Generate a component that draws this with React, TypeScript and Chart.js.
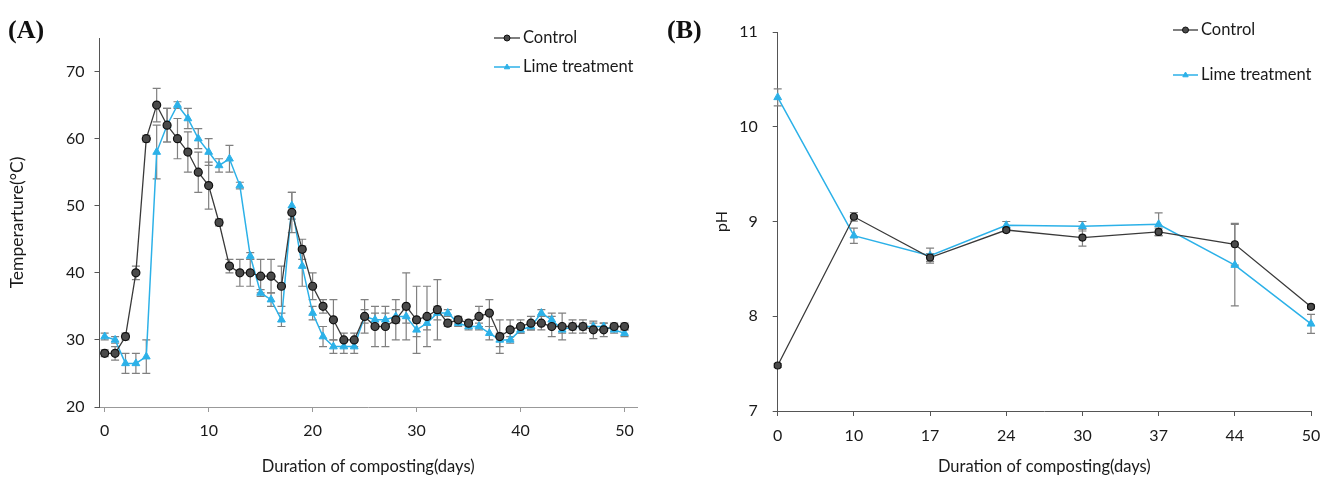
import React, { useEffect, useRef } from "react";
import { Chart, registerables } from "chart.js";

Chart.register(...registerables);

// ---------- Data: panel A (temperature) ----------
const daysA = [0, 1, 2, 3, 4, 5, 6, 7, 8, 9, 10, 11, 12, 13, 14, 15, 16, 17, 18, 19, 20, 21, 22, 23, 24, 25, 26, 27, 28, 29, 30, 31, 32, 33, 34, 35, 36, 37, 38, 39, 40, 41, 42, 43, 44, 45, 46, 47, 48, 49, 50];
const controlTemp = [28, 28, 30.5, 40, 60, 65, 62, 60, 58, 55, 53, 47.5, 41, 40, 40, 39.5, 39.5, 38, 49, 43.5, 38, 35, 33, 30, 30, 33.5, 32, 32, 33, 35, 33, 33.5, 34.5, 32.5, 33, 32.5, 33.5, 34, 30.5, 31.5, 32, 32.5, 32.5, 32, 32, 32, 32, 31.5, 31.5, 32, 32];
const controlTempErr = [0.5, 1, 0.5, 1, 0.5, 2.5, 2.5, 3, 3, 3, 3.5, 0.5, 1, 2, 2, 2.5, 2.5, 3, 3, 1.5, 2, 1, 3, 1, 1, 2.5, 3, 3, 3, 5, 5, 4.5, 4.5, 0.5, 0.5, 0.5, 1.5, 2, 2.5, 1.5, 1, 1, 1, 1.5, 2, 1, 1, 1.3, 1, 0.5, 0.5];
const limeTemp = [30.5, 30, 26.5, 26.5, 27.5, 58, 62, 65, 63, 60, 58, 56, 57, 53, 42.5, 37, 36, 33, 50, 41, 34, 30.5, 29, 29, 29, 33.5, 33, 33, 33.5, 33.5, 31.5, 32.5, 34, 34, 32.5, 32, 32, 31, 30, 30, 31.5, 32, 34, 33, 31.5, 32, 32, 32, 32, 31.5, 31];
const limeTempErr = [0.5, 0.5, 1.5, 1.5, 2.5, 4, 2.5, 0.5, 1.5, 1.5, 2, 1, 2, 0.5, 0.5, 0.5, 1, 1, 2, 3, 1, 1.5, 1, 1, 1, 1, 1, 1, 1, 1, 1, 1, 1, 0.5, 0.5, 0.5, 0.5, 1, 1, 0.5, 0.5, 0.5, 0.5, 1, 0.5, 0.5, 0.5, 0.5, 0.5, 0.5, 0.5];
const tempTicks = [20, 30, 40, 50, 60, 70];
const dayTicksA = [0, 10, 20, 30, 40, 50];

// ---------- Data: panel B (pH) ----------
const daysB = ["0", "10", "17", "24", "30", "37", "44", "50"];
const controlPH = [7.48, 9.05, 8.62, 8.91, 8.83, 8.89, 8.76, 8.1];
const controlPHErr = [0.02, 0.045, 0.04, 0.02, 0.09, 0.04, 0.22, 0.02];
const limePH = [10.31, 8.85, 8.64, 8.96, 8.95, 8.97, 8.54, 7.92];
const limePHErr = [0.09, 0.08, 0.08, 0.04, 0.05, 0.12, 0.43, 0.1];

const legendLabels = ["Control", "Lime treatment"];

// ---------- Styles ----------
const FONT_FAMILY = "Lato, 'Open Sans', sans-serif";
const TEXT_COLOR = "#1a1a1a";
const CONTROL_LINE = "#3a3a3a";
const CONTROL_FILL = "#4a4a4a";
const CONTROL_EDGE = "#111";
const LIME_COLOR = "#2cb1e8";
const ERR_COLOR = "#808080";

const errorBarPlugin = {
  id: "errorBars",
  beforeDatasetsDraw(chart: any) {
    const ctx = chart.ctx;
    chart.data.datasets.forEach((ds: any, i: number) => {
      const meta = chart.getDatasetMeta(i);
      if (!ds.errors || meta.hidden) return;
      const yScale = chart.scales[meta.yAxisID];
      ctx.save();
      ctx.strokeStyle = ds.errorColor || ERR_COLOR;
      ctx.lineWidth = 1.2;
      const cap = ds.errorCap || 4;
      meta.data.forEach((pt: any, j: number) => {
        const raw = ds.data[j];
        const v = typeof raw === "object" ? raw.y : raw;
        const e = ds.errors[j];
        if (v == null || !e) return;
        const x = pt.x;
        const yTop = yScale.getPixelForValue(v + e);
        const yBot = yScale.getPixelForValue(v - e);
        ctx.beginPath();
        ctx.moveTo(x, yTop);
        ctx.lineTo(x, yBot);
        ctx.moveTo(x - cap, yTop);
        ctx.lineTo(x + cap, yTop);
        ctx.moveTo(x - cap, yBot);
        ctx.lineTo(x + cap, yBot);
        ctx.stroke();
      });
      ctx.restore();
    });
  },
};

const lineLegendPlugin = {
  id: "lineLegend",
  afterDraw(chart: any, _args: any, opts: any) {
    if (!opts || !opts.display) return;
    const ctx = chart.ctx;
    chart.data.datasets.forEach((ds: any, i: number) => {
      const y = opts.y[i];
      const x0 = opts.x;
      const x1 = opts.x + opts.lineLen;
      ctx.save();
      ctx.strokeStyle = ds.borderColor;
      ctx.lineWidth = ds.borderWidth;
      ctx.beginPath();
      ctx.moveTo(x0, y);
      ctx.lineTo(x1, y);
      ctx.stroke();
      ctx.lineWidth = 1;
      ctx.fillStyle = ds.pointBackgroundColor;
      ctx.strokeStyle = ds.pointBorderColor;
      const r = opts.pointRadius;
      const cx = (x0 + x1) / 2;
      ctx.beginPath();
      if (ds.pointStyle === "triangle") {
        ctx.moveTo(cx, y - r);
        ctx.lineTo(cx + r * 0.9, y + r * 0.6);
        ctx.lineTo(cx - r * 0.9, y + r * 0.6);
        ctx.closePath();
      } else {
        ctx.arc(cx, y, r, 0, Math.PI * 2);
      }
      ctx.fill();
      ctx.stroke();
      ctx.fillStyle = TEXT_COLOR;
      ctx.font = `${opts.fontSize}px ${FONT_FAMILY}`;
      ctx.textBaseline = "middle";
      ctx.textAlign = "left";
      ctx.fillText(ds.label, x1 + opts.gap, y);
      ctx.restore();
    });
  },
};

const tickFont = { family: FONT_FAMILY, size: 16 };
const titleFont = { family: FONT_FAMILY, size: 16.5 };

function TempChart() {
  const ref = useRef<HTMLCanvasElement>(null);
  useEffect(() => {
    if (!ref.current) return;
    const chart = new Chart(ref.current, {
      type: "line",
      data: {
        datasets: [
          {
            label: legendLabels[0],
            data: daysA.map((d, i) => ({ x: d, y: controlTemp[i] })),
            errors: controlTempErr,
            borderColor: CONTROL_LINE,
            borderWidth: 1.3,
            pointStyle: "circle",
            pointRadius: 4,
            pointBackgroundColor: CONTROL_FILL,
            pointBorderColor: CONTROL_EDGE,
            pointBorderWidth: 1.2,
            tension: 0,
          } as any,
          {
            label: legendLabels[1],
            data: daysA.map((d, i) => ({ x: d, y: limeTemp[i] })),
            errors: limeTempErr,
            borderColor: LIME_COLOR,
            borderWidth: 1.5,
            pointStyle: "triangle",
            pointRadius: 4.5,
            pointBackgroundColor: LIME_COLOR,
            pointBorderColor: LIME_COLOR,
            pointBorderWidth: 1,
            tension: 0,
          } as any,
        ],
      },
      options: {
        responsive: false,
        animation: false,
        layout: { padding: { left: 4, top: 38, right: 23, bottom: 3 } },
        plugins: {
          legend: { display: false },
          tooltip: { enabled: false },
          lineLegend: { display: true, x: 494, lineLen: 26, gap: 3, y: [38, 67], pointRadius: 3, fontSize: 16.5 },
        } as any,
        scales: {
          x: {
            type: "linear",
            min: -0.5,
            max: 51.2,
            afterBuildTicks: (s: any) => {
              s.ticks = dayTicksA.map((v) => ({ value: v }));
            },
            afterFit: (s: any) => {
              s.height = 484 - 407 - 3;
            },
            ticks: { font: tickFont, color: TEXT_COLOR, padding: 9, maxRotation: 0, autoSkip: false },
            grid: { display: true, drawOnChartArea: false, drawTicks: true, tickLength: 5, color: "#999" },
            border: { display: true, color: "#999", width: 1 },
            title: { display: true, text: "Duration of composting(days)", font: titleFont, color: TEXT_COLOR, padding: { top: 4, bottom: 4 } },
          },
          y: {
            type: "linear",
            min: 20,
            max: 75,
            afterBuildTicks: (s: any) => {
              s.ticks = tempTicks.map((v) => ({ value: v }));
            },
            afterFit: (s: any) => {
              s.width = 99.5 - 4;
            },
            ticks: { font: tickFont, color: TEXT_COLOR, padding: 10 },
            grid: { display: true, drawOnChartArea: false, drawTicks: true, tickLength: 5, color: "#555" },
            border: { display: true, color: "#555", width: 1 },
            title: { display: true, text: "Temperarture(°C)", font: { family: FONT_FAMILY, size: 17.5 }, color: TEXT_COLOR, padding: { top: 3, bottom: 4 } },
          },
        },
      } as any,
      plugins: [errorBarPlugin, lineLegendPlugin],
    });
    return () => chart.destroy();
  }, []);
  return <canvas ref={ref} width={660} height={484} style={{ position: "absolute", left: 0, top: 0 }} />;
}

function PHChart() {
  const ref = useRef<HTMLCanvasElement>(null);
  useEffect(() => {
    if (!ref.current) return;
    const chart = new Chart(ref.current, {
      type: "line",
      data: {
        labels: daysB,
        datasets: [
          {
            label: legendLabels[0],
            data: controlPH,
            errors: controlPHErr,
            borderColor: CONTROL_LINE,
            borderWidth: 1.3,
            pointStyle: "circle",
            pointRadius: 3.5,
            pointBackgroundColor: CONTROL_FILL,
            pointBorderColor: CONTROL_EDGE,
            pointBorderWidth: 1.2,
            tension: 0,
          } as any,
          {
            label: legendLabels[1],
            data: limePH,
            errors: limePHErr,
            borderColor: LIME_COLOR,
            borderWidth: 1.5,
            pointStyle: "triangle",
            pointRadius: 4.5,
            pointBackgroundColor: LIME_COLOR,
            pointBorderColor: LIME_COLOR,
            pointBorderWidth: 1,
            tension: 0,
          } as any,
        ],
      },
      options: {
        responsive: false,
        animation: false,
        layout: { padding: { left: 8, top: 32, right: 22, bottom: 3 } },
        plugins: {
          legend: { display: false },
          tooltip: { enabled: false },
          lineLegend: { display: true, x: 473, lineLen: 25, gap: 3, y: [30, 75], pointRadius: 3, fontSize: 16.5 },
        } as any,
        scales: {
          x: {
            type: "category",
            offset: false,
            afterFit: (s: any) => {
              s.height = 484 - 411 - 3;
            },
            ticks: { font: tickFont, color: TEXT_COLOR, padding: 10, maxRotation: 0, autoSkip: false },
            grid: { display: true, drawOnChartArea: false, drawTicks: true, tickLength: 5, color: "#555", offset: false },
            border: { display: true, color: "#555", width: 1 },
            title: { display: true, text: "Duration of composting(days)", font: titleFont, color: TEXT_COLOR, padding: { top: 4, bottom: 4 } },
          },
          y: {
            type: "linear",
            min: 7,
            max: 11,
            ticks: { stepSize: 1, font: tickFont, color: TEXT_COLOR, padding: 15 },
            afterFit: (s: any) => {
              s.width = 777.7 - 700 - 8;
            },
            grid: { display: true, drawOnChartArea: false, drawTicks: true, tickLength: 5, color: "#555" },
            border: { display: true, color: "#555", width: 1 },
            title: { display: true, text: "pH", font: tickFont, color: TEXT_COLOR, padding: { top: 4, bottom: 4 } },
          },
        },
      } as any,
      plugins: [errorBarPlugin, lineLegendPlugin],
    });
    return () => chart.destroy();
  }, []);
  return <canvas ref={ref} width={633} height={484} style={{ position: "absolute", left: 700, top: 0 }} />;
}

const panelLabelStyle: React.CSSProperties = {
  position: "absolute",
  fontFamily: "'Liberation Serif', 'Times New Roman', serif",
  fontWeight: "bold",
  fontSize: 26,
  lineHeight: "26px",
  color: "#111",
};

export default function App() {
  return (
    <div style={{ position: "fixed", left: 0, top: 0, width: 1333, height: 484, background: "#fff", overflow: "hidden" }}>
      <TempChart />
      <PHChart />
      <div style={{ ...panelLabelStyle, left: 8, top: 17 }}>(A)</div>
      <div style={{ ...panelLabelStyle, left: 667, top: 17 }}>(B)</div>
    </div>
  );
}
